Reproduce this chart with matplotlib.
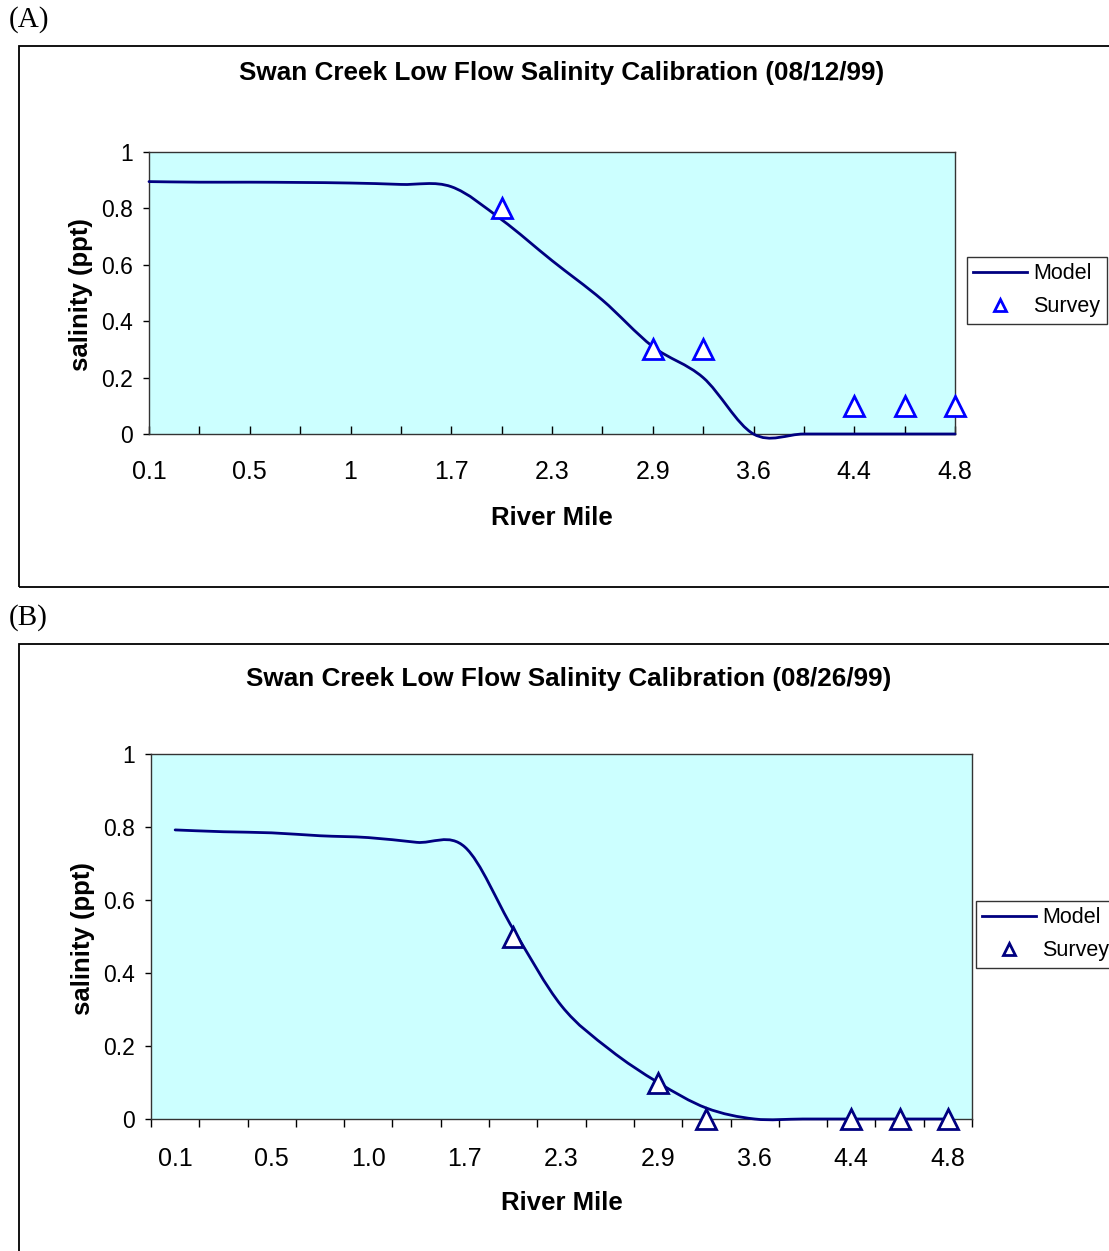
import numpy as np
import matplotlib.pyplot as plt
from matplotlib.path import Path
from matplotlib.patches import PathPatch, Rectangle
from matplotlib.lines import Line2D

plt.rcParams['font.family'] = ['Liberation Sans', 'DejaVu Sans']

# valeurs (17 points de calcul le long de la riviere)
etiquettes_mile_a = ['0.1', '0.5', '1', '1.7', '2.3', '2.9', '3.6', '4.4', '4.8']
etiquettes_mile_b = ['0.1', '0.5', '1.0', '1.7', '2.3', '2.9', '3.6', '4.4', '4.8']

modele_a = [0.895, 0.893, 0.893, 0.892, 0.890, 0.885, 0.877, 0.76, 0.615,
            0.475, 0.31, 0.20, 0.0, 0.0, 0.0, 0.0, 0.0]
releve_a_idx = [7, 10, 11, 14, 15, 16]
releve_a = [0.8, 0.3, 0.3, 0.1, 0.1, 0.1]

modele_b = [0.792, 0.787, 0.784, 0.776, 0.771, 0.758, 0.745, 0.52, 0.31,
            0.19, 0.10, 0.03, 0.0, 0.0, 0.0, 0.0, 0.0]
releve_b_idx = [7, 10, 11, 14, 15, 16]
releve_b = [0.5, 0.1, 0.0, 0.0, 0.0, 0.0]

W, H = 1109, 1251
MARINE = '#000080'
FOND = '#CCFFFF'


# courbe lissee facon Excel (Bezier passant par les points)
def courbe_lissee(x, y):
    pts = np.column_stack([np.asarray(x, float), np.asarray(y, float)])
    n = len(pts)
    verts = [pts[0]]
    codes = [Path.MOVETO]
    for i in range(n - 1):
        p0 = pts[max(i - 1, 0)]
        p3 = pts[min(i + 2, n - 1)]
        verts += [pts[i] + (pts[i + 1] - p0) / 6, pts[i + 1] - (p3 - pts[i]) / 6, pts[i + 1]]
        codes += [Path.CURVE4] * 3
    return Path(verts, codes)


def boite(px_g, px_d, px_h, px_b):
    return [px_g / W, 1 - px_b / H, (px_d - px_g) / W, (px_b - px_h) / H]


def tracer_panneau(fig, rect, x, modele, idx, releve, coul_releve, titre, leg_xy,
                   centre_titre, centre_xlabel, centre_ylabel, sens_x, pad_x):
    ax = fig.add_axes(rect)
    ax.set_facecolor(FOND)
    ax.add_patch(PathPatch(courbe_lissee(x, modele), fill=False, edgecolor=MARINE, lw=2.0,
                           capstyle='round', zorder=3, clip_on=False))
    ax.plot(np.asarray(x)[idx], releve, ls='none', marker='^', ms=15, mfc='white',
            mec=coul_releve, mew=2.0, zorder=4, clip_on=False)
    ax.set_ylim(0, 1)
    ax.set_yticks(np.arange(0, 1.01, 0.2))
    ax.set_yticklabels(['0', '0.2', '0.4', '0.6', '0.8', '1'])
    ax.tick_params(axis='y', direction='out', length=4.5, width=1, labelsize=16.5, pad=7)
    ax.tick_params(axis='x', direction=sens_x, length=6, width=1, labelsize=18, pad=pad_x)
    for s in ax.spines.values():
        s.set_color('#333333')
        s.set_linewidth(1)

    fig.text(centre_titre[0] / W, 1 - centre_titre[1] / H, titre, ha='center', va='center',
             fontsize=18.8, fontweight='bold')
    fig.text(centre_xlabel[0] / W, 1 - centre_xlabel[1] / H, 'River Mile', ha='center',
             va='center', fontsize=18.5, fontweight='bold')
    fig.text(centre_ylabel[0] / W, 1 - centre_ylabel[1] / H, 'salinity (ppt)', ha='center',
             va='center', rotation=90, fontsize=18.5, fontweight='bold')

    poignees = [Line2D([], [], color=MARINE, lw=2.0),
                Line2D([], [], ls='none', marker='^', ms=9, mfc='white', mec=coul_releve, mew=2.0)]
    fig.legend(poignees, ['Model', 'Survey'], loc='upper left',
               bbox_to_anchor=(leg_xy[0] / W, 1 - leg_xy[1] / H), bbox_transform=fig.transFigure,
               fontsize=15.5, frameon=True, fancybox=False, edgecolor='#333333', framealpha=1,
               borderaxespad=0, borderpad=0.3, handlelength=2.5, handletextpad=0.27,
               labelspacing=0.55, numpoints=1)
    return ax


fig = plt.figure(figsize=(W / 100, H / 100), dpi=100)

# cadres des deux graphiques
fig.add_artist(Rectangle((19 / W, 1 - 587 / H), 1.2, 541 / H, fill=False, lw=1.3,
                         edgecolor='black', transform=fig.transFigure, clip_on=False))
fig.add_artist(Rectangle((19 / W, -0.2), 1.2, 0.2 + (H - 644) / H, fill=False, lw=1.3,
                         edgecolor='black', transform=fig.transFigure, clip_on=False))
fig.text(9 / W, 1 - 20 / H, '(A)', family='Liberation Serif', fontsize=21, va='center')
fig.text(9 / W, 1 - 618 / H, '(B)', family='Liberation Serif', fontsize=21, va='center')

# (A) : points sur les graduations
x_a = np.arange(len(modele_a))
ax_a = tracer_panneau(fig, boite(149, 955, 152, 434), x_a, modele_a, releve_a_idx, releve_a,
                      '#0000FF', 'Swan Creek Low Flow Salinity Calibration (08/12/99)',
                      (967, 257), (562, 73), (552, 518), (81, 295), 'in', 19)
ax_a.set_xlim(0, len(modele_a) - 1)
ax_a.set_xticks(x_a)
ax_a.set_xticklabels([etiquettes_mile_a[i // 2] if i % 2 == 0 else '' for i in x_a])

# (B) : points entre les graduations
x_b = np.arange(len(modele_b)) + 0.5
ax_b = tracer_panneau(fig, boite(151, 972, 754, 1119), x_b, modele_b, releve_b_idx, releve_b,
                      MARINE, 'Swan Creek Low Flow Salinity Calibration (08/26/99)',
                      (976, 901), (569, 679), (562, 1203), (83, 939), 'out', 11)
ax_b.set_xlim(0, len(modele_b))
ax_b.set_xticks(np.arange(len(modele_b) + 1))
ax_b.set_xticklabels([])
ax_b.set_xticks(x_b[::2], minor=True)
ax_b.set_xticklabels(etiquettes_mile_b, minor=True)
ax_b.tick_params(axis='x', which='minor', length=0, labelsize=18, pad=20)

fig.savefig('out.png', dpi=100)
